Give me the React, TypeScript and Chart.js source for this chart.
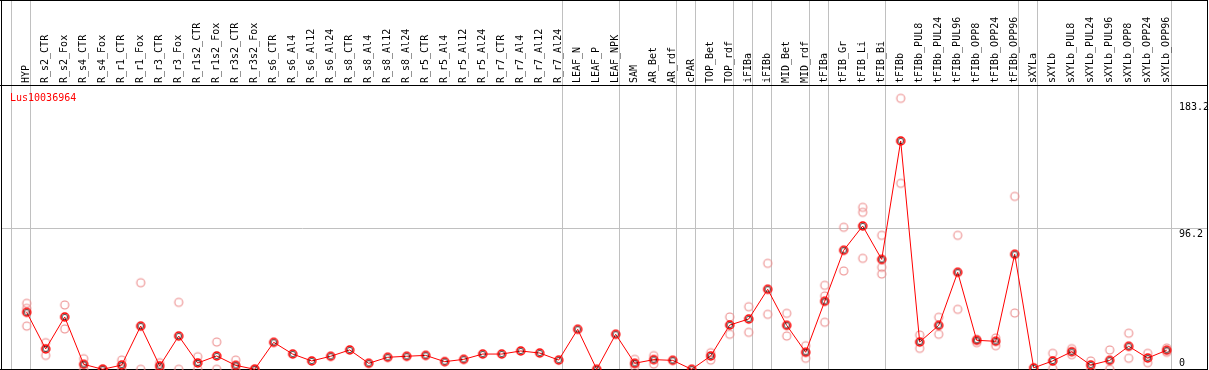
import React, { useEffect, useRef } from "react";
import { Chart, registerables } from "chart.js";

Chart.register(...registerables);

const categories = [
  "HYP",
  "R_s2_CTR", "R_s2_Fox", "R_s4_CTR", "R_s4_Fox", "R_r1_CTR", "R_r1_Fox", "R_r3_CTR", "R_r3_Fox",
  "R_r1s2_CTR", "R_r1s2_Fox", "R_r3s2_CTR", "R_r3s2_Fox",
  "R_s6_CTR", "R_s6_Al4", "R_s6_Al12", "R_s6_Al24",
  "R_s8_CTR", "R_s8_Al4", "R_s8_Al12", "R_s8_Al24",
  "R_r5_CTR", "R_r5_Al4", "R_r5_Al12", "R_r5_Al24",
  "R_r7_CTR", "R_r7_Al4", "R_r7_Al12", "R_r7_Al24",
  "LEAF_N", "LEAF_P", "LEAF_NPK",
  "SAM", "AR_Bet", "AR_rdf",
  "cPAR",
  "TOP_Bet", "TOP_rdf",
  "iFIBa",
  "iFIBb",
  "MID_Bet", "MID_rdf",
  "tFIBa",
  "tFIB_Gr", "tFIB_Li", "tFIB_Bi",
  "tFIBb", "tFIBb_PUL8", "tFIBb_PUL24", "tFIBb_PUL96", "tFIBb_OPP8", "tFIBb_OPP24", "tFIBb_OPP96",
  "sXYLa",
  "sXYLb", "sXYLb_PUL8", "sXYLb_PUL24", "sXYLb_PUL96", "sXYLb_OPP8", "sXYLb_OPP24", "sXYLb_OPP96",
];

// index of the first category of each group (separator drawn to its left)
const groupStarts = [0, 1, 29, 32, 35, 36, 38, 39, 40, 42, 43, 46, 53, 54];

const meanValues = [
  38.9,
  13.9, 35.7, 3.4, 0, 2.9, 29.5, 2.3, 22.7,
  4.3, 9.1, 2.7, 0,
  18.4, 10.4, 5.7, 8.9,
  13.2, 4.1, 8.2, 8.9,
  9.5, 5.2, 6.8, 10.4,
  10.4, 12.5, 11.1, 6.3,
  27.3, 0, 23.9,
  4.1, 6.6, 6.1,
  0,
  9.1, 30.2,
  34.3,
  54.6,
  30.0, 11.6,
  46.4,
  81.2, 97.8, 75.0,
  155.8, 18.6, 30.0, 66.2, 19.8, 19.1, 78.5,
  1.0,
  5.7, 12.0, 2.9, 6.1, 15.7, 7.7, 13.0,
];

const rep1 = [
  45.0,
  18.2, 43.9, 7.2, 0, 6.3, 59.1, 4.5, 45.7,
  8.6, 18.6, 6.3, 0,
  null, null, null, null,
  null, null, null, null,
  null, null, null, null,
  null, null, null, null,
  null, null, null,
  6.8, 9.3, null,
  null,
  11.3, 35.7,
  42.7,
  72.3,
  38.2, 16.1,
  57.3,
  96.9, 110.5, 91.4,
  184.9, 23.4, 35.5, 91.4, 20.5, 21.4, 118.0,
  null,
  10.9, 14.1, 5.7, 13.2, 24.6, 10.9, 14.5,
];

const rep2 = [
  41.6,
  9.5, 27.5, 0, 0, 0, 0, 0, 0,
  0, 0, 0, 0,
  null, null, null, null,
  null, null, null, null,
  null, null, null, null,
  null, null, null, null,
  null, null, null,
  1.8, 3.6, null,
  null,
  6.3, 23.9,
  25.2,
  37.5,
  22.7, 7.5,
  50.0,
  67.1, 107.1, 69.6,
  126.9, 14.3, 23.9, 40.9, 18.2, 16.1, 38.4,
  null,
  0.4, 10.0, 0, 0, 7.5, 4.5, 11.6,
];

const rep3 = [
  29.5,
  null, null, null, null, null, null, null, null,
  null, null, null, null,
  null, null, null, null,
  null, null, null, null,
  null, null, null, null,
  null, null, null, null,
  null, null, null,
  3.7, null, null,
  null,
  null, null,
  null,
  null,
  null, null,
  32.1,
  null, 75.7, 65.0,
  null, null, null, null, null, null, null,
  null,
  null, null, null, null, null, null, null,
];

const yTickValues = [0, 96.2, 183.2];
const yTickLabels = ["0", "96.2", "183.2"];
const geneName = "Lus10036964";

const MONO = '10px "DejaVu Sans Mono", "Liberation Mono", monospace';

function makeMarker(kind: "mean" | "rep"): HTMLCanvasElement {
  const c = document.createElement("canvas");
  c.width = 12;
  c.height = 12;
  const g = c.getContext("2d")!;
  const cx = 6, cy = 6;
  const col = kind === "mean" ? "#ff0000" : "rgb(236,140,140)";
  g.strokeStyle = col;
  g.lineWidth = kind === "mean" ? 1.5 : 1.1;
  g.beginPath();
  g.arc(cx, cy, 4, 0, Math.PI * 2);
  g.stroke();
  if (kind === "mean") {
    g.strokeStyle = "rgba(0,0,0,0.85)";
    g.lineWidth = 0.8;
    g.beginPath();
    g.arc(cx, cy, 2.7, 0, Math.PI * 2);
    g.stroke();
  }
  return c;
}

const decorPlugin = {
  id: "decor",
  beforeDraw(chart: any) {
    const ctx = chart.ctx;
    ctx.save();
    ctx.fillStyle = "#fff";
    ctx.fillRect(0, 0, chart.width, chart.height);
    ctx.restore();
  },
  beforeDatasetsDraw(chart: any) {
    const ctx = chart.ctx;
    const xs = chart.scales.x;
    const ys = chart.scales.y;
    ctx.save();
    // group separators
    ctx.strokeStyle = "#c0c0c0";
    ctx.lineWidth = 1;
    ctx.beginPath();
    for (const s of groupStarts) {
      const px = Math.round(xs.getPixelForValue(s) - 15.4) + 0.5;
      ctx.moveTo(px, 0);
      ctx.lineTo(px, 369);
    }
    const rx = Math.round(xs.getPixelForValue(categories.length - 1) + 4) + 0.5;
    ctx.moveTo(rx, 0);
    ctx.lineTo(rx, 369);
    // horizontal grid at middle tick
    const gy = Math.round(ys.getPixelForValue(yTickValues[1])) + 0.5;
    ctx.moveTo(1, gy);
    ctx.lineTo(1207, gy);
    ctx.stroke();

    // black frame
    ctx.strokeStyle = "#000";
    ctx.beginPath();
    ctx.moveTo(0, 0.5); ctx.lineTo(1208, 0.5);
    ctx.moveTo(1.5, 0); ctx.lineTo(1.5, 370);
    ctx.moveTo(1207.5, 0); ctx.lineTo(1207.5, 370);
    ctx.moveTo(0, 369.5); ctx.lineTo(1208, 369.5);
    ctx.moveTo(0, 85.5); ctx.lineTo(1208, 85.5);
    ctx.stroke();

    // column headers
    ctx.fillStyle = "#000";
    ctx.font = MONO;
    ctx.textAlign = "left";
    ctx.textBaseline = "alphabetic";
    categories.forEach((lab, i) => {
      const px = xs.getPixelForValue(i);
      ctx.save();
      ctx.translate(Math.round(px + 2), 83);
      ctx.rotate(-Math.PI / 2);
      ctx.fillText(lab, 0, 0);
      ctx.restore();
    });

    // gene name
    ctx.fillStyle = "#ff0000";
    ctx.fillText(geneName, 10, 101);

    // y tick labels
    ctx.fillStyle = "#000";
    yTickValues.forEach((v, i) => {
      const py = ys.getPixelForValue(v);
      const by = v === 0 ? py - 3 : py + 9;
      ctx.fillText(yTickLabels[i], 1179, Math.round(by));
    });
    ctx.restore();
  },
};

export default function App() {
  const ref = useRef<HTMLCanvasElement | null>(null);
  useEffect(() => {
    if (!ref.current) return;
    const meanImg = makeMarker("mean");
    const repImg = makeMarker("rep");
    const repDs = (data: (number | null)[], label: string) => ({
      label,
      data,
      showLine: false,
      pointStyle: repImg,
      pointRadius: 5,
      borderColor: "rgb(236,140,140)",
      backgroundColor: "rgba(0,0,0,0)",
      order: 2,
      clip: false as any,
    });
    const chart = new Chart(ref.current, {
      type: "line",
      data: {
        labels: categories,
        datasets: [
          {
            label: "mean",
            data: meanValues,
            borderColor: "#ff0000",
            borderWidth: 1,
            pointStyle: meanImg as any,
            pointRadius: 5,
            backgroundColor: "rgba(0,0,0,0)",
            tension: 0,
            order: 0,
            clip: false as any,
          },
          repDs(rep1, "rep1") as any,
          repDs(rep2, "rep2") as any,
          repDs(rep3, "rep3") as any,
        ],
      },
      options: {
        responsive: false,
        maintainAspectRatio: false,
        animation: false,
        devicePixelRatio: 1,
        layout: { autoPadding: false, padding: { left: 17.2, right: 32.8, top: 85, bottom: 0.7 } },
        plugins: { legend: { display: false }, tooltip: { enabled: false } },
        scales: {
          x: { type: "category", offset: true, display: false },
          y: { type: "linear", min: 0, max: 194, display: false },
        },
      },
      plugins: [decorPlugin],
    });
    return () => chart.destroy();
  }, []);
  return (
    <div style={{ position: "fixed", left: 0, top: 0, width: 1209, height: 370, background: "#fff" }}>
      <canvas ref={ref} width={1209} height={370} style={{ display: "block" }} />
    </div>
  );
}
